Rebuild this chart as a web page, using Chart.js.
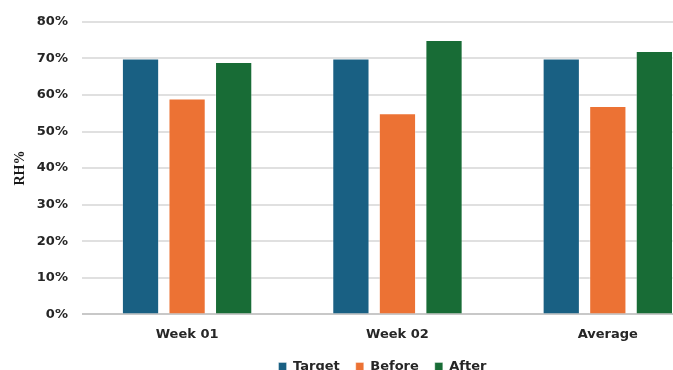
<!DOCTYPE html>
<html lang="en">
<head>
  <meta charset="UTF-8">
  <title>RH% by week</title>
  <script src="https://cdn.jsdelivr.net/npm/chart.js"></script>
  <style>
    html, body { margin: 0; padding: 0; background: #fff; overflow: hidden; }
    canvas { display: block; }
  </style>
</head>
<body>
  <canvas id="rhChart" width="762" height="370"></canvas>

  <script>
    // humidity readings (%)
    const categories = ['Week 01', 'Week 02', 'Average'];
    const target = [70, 70, 70];
    const before = [59, 55, 57];
    const after = [69, 75, 72];
    const yTicks = [0, 10, 20, 30, 40, 50, 60, 70, 80];

    const tickFont = { family: 'DejaVu Sans', size: 13, weight: 'bold' };

    // legend sits centred on the full figure, not on the padded area
    const legendShift = {
      id: 'legendShift',
      afterLayout(chart) {
        const lg = chart.legend;
        if (!lg) return;
        lg.left += 20;
        lg.right += 20;
        lg.top -= 2;
        lg.bottom -= 2;
      }
    };

    new Chart(document.getElementById('rhChart'), {
      type: 'bar',
      data: {
        labels: categories,
        datasets: [
          { label: 'Target', data: target, backgroundColor: '#196083', borderColor: 'rgba(255,255,255,0.35)', borderWidth: 1 },
          { label: 'Before', data: before, backgroundColor: '#ec7234', borderColor: 'rgba(255,255,255,0.35)', borderWidth: 1 },
          { label: 'After', data: after, backgroundColor: '#186c36', borderColor: 'rgba(255,255,255,0.35)', borderWidth: 1 }
        ]
      },
      plugins: [legendShift],
      options: {
        responsive: false,
        animation: false,
        categoryPercentage: 0.664,
        barPercentage: 0.8,
        layout: { padding: { top: 15, right: 49, left: 12, bottom: -15 } },
        plugins: {
          tooltip: { enabled: false },
          legend: {
            position: 'bottom',
            labels: {
              boxWidth: 8,
              boxHeight: 8,
              padding: 16,
              color: '#262626',
              font: tickFont
            }
          }
        },
        scales: {
          x: {
            grid: { display: false },
            border: { display: false },
            ticks: { color: '#262626', font: tickFont, padding: 4 }
          },
          y: {
            min: 0,
            max: 80,
            afterBuildTicks: (axis) => { axis.ticks = yTicks.map(v => ({ value: v })); },
            grid: {
              drawTicks: false,
              lineWidth: 2,
              color: (ctx) => ctx.tick && ctx.tick.value === 0 ? '#c8c8c8' : '#e0e0e0'
            },
            border: { display: false },
            ticks: {
              color: '#262626',
              font: tickFont,
              padding: 14,
              callback: (v) => v + '%'
            },
            title: {
              display: true,
              text: 'RH%',
              color: '#1a1a1a',
              font: { family: 'Liberation Serif', size: 14, weight: 'bold' },
              padding: { top: 0, bottom: -6 }
            }
          }
        }
      }
    });
  </script>
</body>
</html>
